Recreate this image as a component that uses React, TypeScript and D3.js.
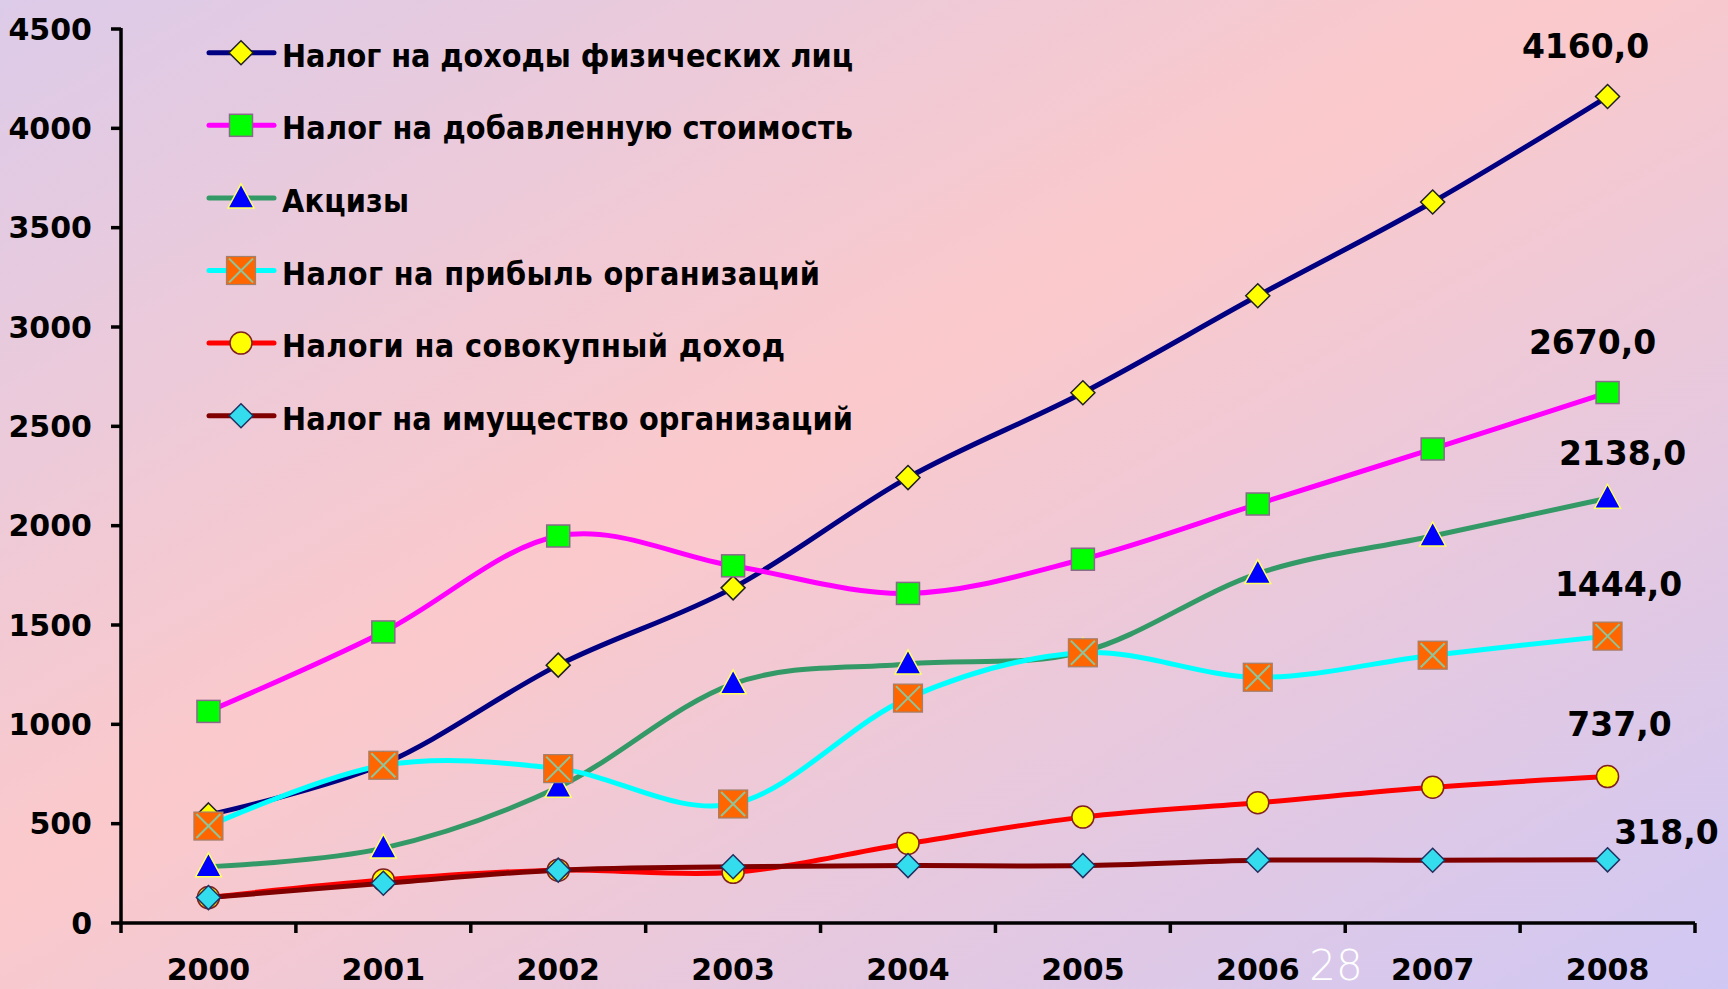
import React from 'react';
import * as d3 from 'd3';

const years = ['2000', '2001', '2002', '2003', '2004', '2005', '2006', '2007', '2008'];

const ndfl = [544, 800, 1298, 1687, 2242, 2669, 3157, 3629, 4160];
const nds = [1065, 1465, 1948, 1798, 1659, 1831, 2109, 2386, 2670];
const akcizy = [283, 377, 683, 1204, 1304, 1365, 1759, 1948, 2138];
const pribyl = [488, 794, 777, 599, 1132, 1360, 1237, 1348, 1444];
const sovokupny = [128, 216, 266, 255, 400, 533, 605, 683, 737];
const imushestvo = [128, 200, 266, 283, 289, 289, 316, 316, 318];

const yTicks = [0, 500, 1000, 1500, 2000, 2500, 3000, 3500, 4000, 4500];

const seriesNames = [
  'Налог на доходы физических лиц',
  'Налог на добавленную стоимость',
  'Акцизы',
  'Налог на прибыль организаций',
  'Налоги на совокупный доход',
  'Налог на имущество организаций',
];

type Marker = 'diamond' | 'square' | 'triangle' | 'xsquare' | 'circle';

const series = [
  { name: seriesNames[0], values: ndfl, line: '#000080', marker: 'diamond' as Marker, fill: '#ffff00', stroke: '#202020', label: [-22, -50], textLen: 571 },
  { name: seriesNames[1], values: nds, line: '#ff00ff', marker: 'square' as Marker, fill: '#00ff00', stroke: '#8a6a8a', label: [-15, -50], textLen: 571 },
  { name: seriesNames[2], values: akcizy, line: '#339966', marker: 'triangle' as Marker, fill: '#0000ff', stroke: '#ffff66', label: [15, -45], textLen: 127 },
  { name: seriesNames[3], values: pribyl, line: '#00ffff', marker: 'xsquare' as Marker, fill: '#ff6600', stroke: '#a08070', label: [11, -52], textLen: 538 },
  { name: seriesNames[4], values: sovokupny, line: '#ff0000', marker: 'circle' as Marker, fill: '#ffff00', stroke: '#802020', label: [12, -52], textLen: 503 },
  { name: seriesNames[5], values: imushestvo, line: '#800000', marker: 'diamond' as Marker, fill: '#33ddee', stroke: '#203060', label: [59, -28], textLen: 571 },
];

const W = 1728;
const H = 989;
const x0 = 121;
const x1 = 1695;
const yTop = 29;
const yBottom = 923;

const x = d3.scaleBand<string>().domain(years).range([x0, x1]);
const y = d3.scaleLinear().domain([0, 4500]).range([yBottom, yTop]);
const cx = (yr: string) => (x(yr) as number) + x.bandwidth() / 2;

const lineGen = d3.line<number>()
  .x((_, i) => cx(years[i]))
  .y(d => y(d))
  .curve(d3.curveCardinal.tension(0));

const drawMarker = (m: Marker, px: number, py: number, fill: string, stroke: string, key: string) => {
  switch (m) {
    case 'diamond':
      return (
        <path key={key} d={`M${px},${py - 12}L${px + 12},${py}L${px},${py + 12}L${px - 12},${py}Z`}
          fill={fill} stroke={stroke} strokeWidth={1.5} />
      );
    case 'square':
      return <rect key={key} x={px - 11.5} y={py - 11} width={23} height={22} fill={fill} stroke={stroke} strokeWidth={1.5} />;
    case 'triangle':
      return (
        <path key={key} d={`M${px},${py - 14}L${px + 13},${py + 10}L${px - 13},${py + 10}Z`}
          fill={fill} stroke={stroke} strokeWidth={1.5} />
      );
    case 'xsquare':
      return (
        <g key={key}>
          <rect x={px - 14.5} y={py - 14} width={29} height={28} fill={fill} stroke={stroke} strokeWidth={1.2} />
          <path d={`M${px - 12},${py - 12}L${px + 12},${py + 12}M${px + 12},${py - 12}L${px - 12},${py + 12}`}
            stroke="#8fc49a" strokeWidth={2} />
        </g>
      );
    default:
      return <circle key={key} cx={px} cy={py} r={11} fill={fill} stroke={stroke} strokeWidth={1.5} />;
  }
};

const fmt = (v: number) => d3.format('.1f')(v).replace('.', ',');

const App = () => {
  const numFont = "'DejaVu Sans', Verdana, sans-serif";
  const legendFont = "'Liberation Sans Narrow', 'DejaVu Sans Condensed', 'Liberation Sans', sans-serif";
  const last = years[years.length - 1];

  return (
    <svg width={W} height={H} style={{ position: 'fixed', left: 0, top: 0, display: 'block' }}>
      <defs>
        <linearGradient id="bg" x1="0" y1="0" x2="1" y2="1">
          <stop offset="0" stopColor="#dccbe9" />
          <stop offset="0.45" stopColor="#fbc9cb" />
          <stop offset="1" stopColor="#d0c8f4" />
        </linearGradient>
      </defs>
      <rect width={W} height={H} fill="url(#bg)" />

      {/* axes */}
      <g stroke="#000" strokeWidth={3.5} fill="none">
        <line x1={x0} y1={yTop - 1} x2={x0} y2={yBottom} />
        <line x1={x0} y1={yBottom} x2={x1} y2={yBottom} />
        {yTicks.map(t => (
          <line key={t} x1={x0 - 10} x2={x0} y1={y(t)} y2={y(t)} />
        ))}
        {years.map(yr => (
          <line key={yr} x1={x(yr)} x2={x(yr)} y1={yBottom} y2={yBottom + 10} />
        ))}
        <line x1={x1} x2={x1} y1={yBottom} y2={yBottom + 10} />
      </g>
      <g fontFamily={numFont} fontWeight="bold" fontSize={30} fill="#000">
        {yTicks.map(t => (
          <text key={t} x={92} y={y(t)} dy="0.36em" textAnchor="end">{t}</text>
        ))}
        {years.map(yr => (
          <text key={yr} x={cx(yr)} y={980} textAnchor="middle">{yr}</text>
        ))}
      </g>

      {/* lines and markers */}
      {series.map((s, si) => (
        <g key={si}>
          <path d={lineGen(s.values) || ''} fill="none" stroke={s.line} strokeWidth={5} strokeLinejoin="round" />
          {s.values.map((v, i) => drawMarker(s.marker, cx(years[i]), y(v), s.fill, s.stroke, `${si}-${i}`))}
        </g>
      ))}

      {/* value labels on last point */}
      <g fontFamily={numFont} fontWeight="bold" fontSize={33} fill="#000">
        {series.map((s, si) => (
          <text key={si} x={cx(last) + s.label[0]} y={y(s.values[s.values.length - 1]) + s.label[1]}
            dy="0.36em" textAnchor="middle">{fmt(s.values[s.values.length - 1])}</text>
        ))}
      </g>

      {/* legend */}
      {series.map((s, si) => {
        const ly = 52.7 + si * 72.6;
        return (
          <g key={si}>
            <line x1={209} x2={274} y1={ly} y2={ly} stroke={s.line} strokeWidth={5} strokeLinecap="round" />
            {drawMarker(s.marker, 241, ly, s.fill, s.stroke, `l${si}`)}
            <text x={282} y={ly + 14} fontFamily={legendFont} fontWeight="bold" fontSize={32}
              textLength={s.textLen} lengthAdjust="spacing" fill="#000">{s.name}</text>
          </g>
        );
      })}

      <text x={1336} y={980} fontFamily="'DejaVu Sans', sans-serif" fontWeight="200" fontSize={42}
        fill="#ffffff" textAnchor="middle">28</text>
    </svg>
  );
};

export default App;
